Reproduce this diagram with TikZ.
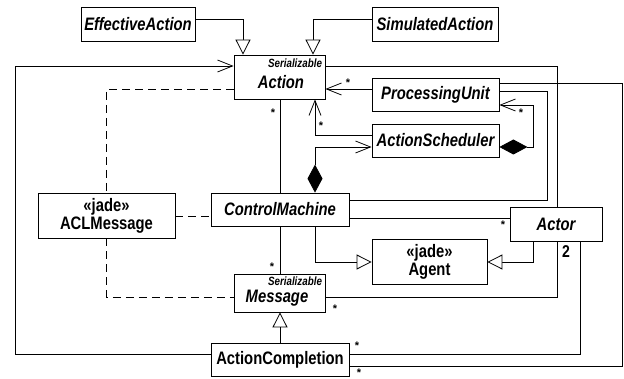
\documentclass[tikz,border=0pt]{standalone}
\usepackage{fontspec}
\setmainfont{Liberation Sans}
\usetikzlibrary{arrows.meta}

\newcommand{\tallt}[1]{\scalebox{1}[1.22]{#1}}

\begin{document}
\begin{tikzpicture}[x=1pt, y=-1pt,
    classbox/.style={draw, line width=0.8pt, fill=white, inner sep=0pt,
        font=\fontsize{14.8}{18}\selectfont\bfseries\itshape},
    plainbox/.style={classbox, align=center,
        font=\fontsize{14.8}{18}\selectfont\bfseries},
    stereo/.style={inner sep=0pt, font=\fontsize{9.8}{11}\selectfont\bfseries\itshape},
    mult/.style={inner sep=0pt, font=\fontsize{11}{12}\selectfont\bfseries},
    wire/.style={line width=0.8pt},
    assoc/.style={wire, -{Straight Barb[length=15pt,width=12pt,line width=0.8pt]}},
    inherit/.style={wire, -{Triangle[length=15pt,width=15pt,fill=white,line width=0.8pt]}},
    owns/.style={wire, {Diamond[length=28pt,width=15pt]}-{Straight Barb[length=15pt,width=12pt,line width=0.8pt]}},
    depend/.style={wire, dash pattern=on 8pt off 5pt}
]
\useasboundingbox (0,0) rectangle (624,379);

% Classes
\node[classbox, minimum width=114pt, minimum height=34pt] (eff) at (138,24) {\tallt{EffectiveAction}};
\node[classbox, minimum width=126pt, minimum height=34pt] (sim) at (435,24) {\tallt{SimulatedAction}};
\node[classbox, minimum width=91pt, minimum height=44pt] (act) at (279.5,77) {};
\node (actT) at (281,82) {\fontsize{14.8}{18}\selectfont\bfseries\itshape\tallt{Action}};
\node[stereo] (actS) at (295,63) {\tallt{Serializable}};
\node[classbox, minimum width=127pt, minimum height=33pt] (pu) at (435.5,94.5) {\tallt{ProcessingUnit}};
\node[classbox, minimum width=127pt, minimum height=33pt] (sched) at (435.5,140.5) {\tallt{ActionScheduler}};
\node[classbox, minimum width=138pt, minimum height=33pt] (cm) at (280,209.5) {\tallt{ControlMachine}};
\node[plainbox, minimum width=137pt, minimum height=45pt] (acl) at (106.5,215.5) {\tallt{«jade»}\\\tallt{ACLMessage}};
\node[classbox, minimum width=92pt, minimum height=34pt] (actor) at (556,224) {\tallt{Actor}};
\node[plainbox, minimum width=115pt, minimum height=45pt] (agent) at (429.5,261.5) {\tallt{«jade»}\\\tallt{Agent}};
\node[classbox, minimum width=91pt, minimum height=38pt] (msg) at (279.5,293) {};
\node (msgT) at (277,298) {\fontsize{14.8}{18}\selectfont\bfseries\itshape\tallt{Message}};
\node[stereo] (msgS) at (295,281) {\tallt{Serializable}};
\node[plainbox, minimum width=138pt, minimum height=33pt] (compl) at (280,359.5) {\tallt{ActionCompletion}};

% Generalisations
\draw[inherit] (eff.east |- 0,19) -| (act.north -| 243,0);
\draw[inherit] (sim.west |- 0,19) -| (act.north -| 313,0);
\draw[inherit] (compl.north) -- (msg.south -| compl.north);
\draw[inherit] (cm.south -| 315,0) |- (agent.west |- 0,262);
\draw[inherit] (actor.south -| 533,0) |- (agent.east |- 0,262);

% Dependencies
\draw[depend] (act.west |- 0,89) -| (acl.north);
\draw[depend] (acl.east |- 0,216) -- (cm.west |- 0,216);
\draw[depend] (acl.south) |- (msg.west |- 0,297);

% Associations
\draw[assoc] (compl.west |- 0,354) -| (15,66) -- (act.west |- 0,66);
\draw[wire] (act.south -| 280,0) -- (cm.north -| 280,0);
\draw[wire] (cm.south -| 280,0) -- (msg.north -| 280,0);
\draw[owns] (cm.north -| 315,0) |- (sched.west |- 0,147);
\draw[assoc] (sched.west |- 0,135) -| (act.south -| 315,0);
\draw[assoc] (pu.west |- 0,89) -- (act.east |- 0,89);
\draw[owns] (sched.east |- 0,147) -| (533,105) -- (pu.east |- 0,105);
\draw[wire] (act.east |- 0,66) -| (actor.north -| 557,0);
\draw[wire] (pu.east |- 0,83) -| (622,366) -- (compl.east |- 0,366);
\draw[wire] (pu.east |- 0,91) -| (547,200) -- (cm.east |- 0,200);
\draw[wire] (cm.east |- 0,218) -- (actor.west |- 0,218);
\draw[wire] (msg.east |- 0,297) -| (actor.south -| 557,0);
\draw[wire] (compl.east |- 0,354) -| (actor.south -| 580,0);

% Multiplicities
\node[mult] (m1) at (273,113) {*};
\node[mult] (m2) at (272,267) {*};
\node[mult] (m3) at (321,126) {*};
\node[mult] (m4) at (348,83) {*};
\node[mult] (m5) at (521,113) {*};
\node[mult] (m6) at (503,225) {*};
\node[mult] (m7) at (335,309) {*};
\node[mult] (m8) at (357,346) {*};
\node[mult] (m9) at (359,373) {*};
\node[mult, font=\fontsize{14}{16}\selectfont\bfseries] (m10) at (566,252) {\tallt{2}};

\end{tikzpicture}
\end{document}
